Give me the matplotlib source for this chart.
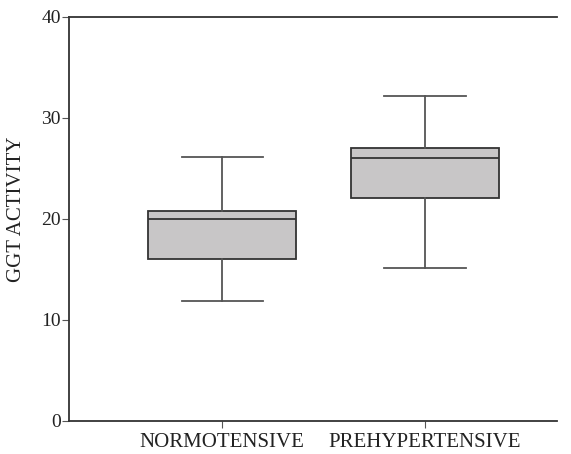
import matplotlib
matplotlib.use('Agg')
import matplotlib.pyplot as plt

groups = ['NORMOTENSIVE', 'PREHYPERTENSIVE']
whisker_low = [11.9, 15.1]
q1 = [16.0, 22.1]
median = [20.0, 26.0]
q3 = [20.8, 27.0]
whisker_high = [26.1, 32.2]

plt.rcParams['font.family'] = 'Liberation Serif'

fig = plt.figure(figsize=(5.71, 4.54), dpi=100)
ax = fig.add_axes([0.121, 0.0727, 0.8545, 0.8899])

stats = []
for i in range(len(groups)):
    stats.append({'whislo': whisker_low[i], 'q1': q1[i], 'med': median[i],
                  'q3': q3[i], 'whishi': whisker_high[i], 'fliers': [], 'label': groups[i]})

ax.bxp(stats, positions=[1, 2], widths=0.73, patch_artist=True, showfliers=False,
       boxprops=dict(facecolor='#c8c6c7', edgecolor='#333333', linewidth=1.3),
       medianprops=dict(color='#333333', linewidth=1.3),
       whiskerprops=dict(color='#555555', linewidth=1.3),
       capprops=dict(color='#555555', linewidth=1.3),
       capwidths=0.4)

ax.set_xlim(0.246, 2.65)
ax.set_ylim(0, 40)
ax.set_yticks([0, 10, 20, 30, 40])
ax.spines['right'].set_visible(False)
for s in ['left', 'top', 'bottom']:
    ax.spines[s].set_color('#333333')
    ax.spines[s].set_linewidth(1.3)
ax.tick_params(axis='both', direction='out', length=5, color='#555555', labelcolor='#222222')
ax.tick_params(axis='y', pad=1, labelsize=14)
ax.tick_params(axis='x', labelsize=15, pad=4)
ax.set_ylabel('GGT ACTIVITY', fontsize=15, color='#222222', va='center')
ax.yaxis.set_label_coords(-0.107, 0.525)

fig.savefig('out.png', dpi=100)
